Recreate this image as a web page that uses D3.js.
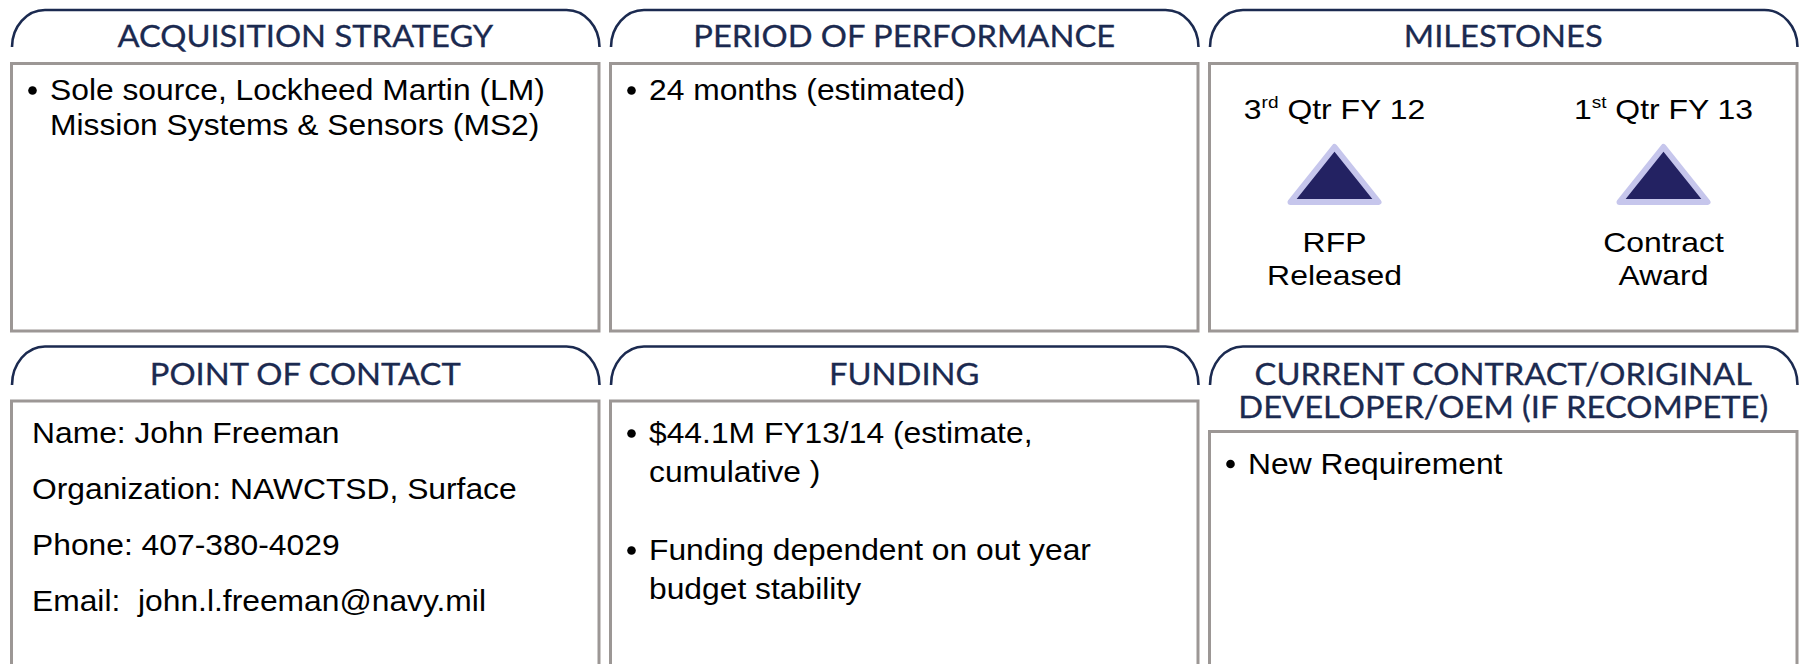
<!DOCTYPE html>
<html>
<head>
<meta charset="utf-8">
<script src="https://cdn.jsdelivr.net/npm/d3@7"></script>
<style>
  body { margin: 0; background: #fff; }
  text { white-space: pre; }
</style>
</head>
<body>
<div id="chart"></div>
<script>
// panel titles, row by row (a title may break over two lines)
var panelTitles = [
  ["ACQUISITION STRATEGY"],
  ["PERIOD OF PERFORMANCE"],
  ["MILESTONES"],
  ["POINT OF CONTACT"],
  ["FUNDING"],
  ["CURRENT CONTRACT/ORIGINAL", "DEVELOPER/OEM (IF RECOMPETE)"]
];

// bullet text, each bullet is a list of lines
var acquisitionBullets = [["Sole source, Lockheed Martin (LM)", "Mission Systems & Sensors (MS2)"]];
var performanceBullets = [["24 months (estimated)"]];
var fundingBullets = [["$44.1M FY13/14 (estimate,", "cumulative )"], ["Funding dependent on out year", "budget stability"]];
var contractBullets = [["New Requirement"]];

// plain lines (no bullets)
var contactLines = ["Name: John Freeman", "Organization: NAWCTSD, Surface", "Phone: 407-380-4029", "Email:  john.l.freeman@navy.mil"];

// milestones
var milestoneQuarter = ["3", "1"];
var milestoneOrdinal = ["rd", "st"];
var milestoneYear = [" Qtr FY 12", " Qtr FY 13"];
var milestoneLabels = [["RFP", "Released"], ["Contract", "Award"]];

var width = 1803, height = 664;
var navy = "#1b2a50", boxGrey = "#9c9795";
var bodyFont = "'Liberation Sans', Arial, sans-serif";
var titleFont = "Lato, 'Noto Sans', sans-serif";

var svg = d3.select("#chart").append("svg")
    .attr("width", width)
    .attr("height", height);

svg.append("rect").attr("width", width).attr("height", height).attr("fill", "#fff");

// columns
var x = d3.scaleBand()
    .domain([0, 1, 2])
    .range([11.5, 1797])
    .paddingInner(0.0192);

// rows: tab top, tab bottom, box top, box bottom, first text baseline
var rows = [
  {tabTop: 10, tabBottom: 47, boxTop: 63.5, boxBottom: 331, textTop: 100},
  {tabTop: 346.5, tabBottom: 385, boxTop: 401, boxBottom: 720, textTop: 443}
];

var titleLineStep = 33;

// text that is a bit wider than the font draws it
function addText(parent, tx, ty, str, size, sx, opts) {
  opts = opts || {};
  var t = parent.append("text")
    .attr("transform", "translate(" + tx + "," + ty + ") scale(" + sx + ",1)")
    .attr("text-anchor", opts.anchor || "start")
    .attr("font-family", opts.font || bodyFont)
    .attr("font-size", size + "px")
    .attr("fill", opts.fill || "#000");
  if (str !== null) t.text(str);
  return t;
}

function tabPath(x0, x1, yt, yb) {
  var rx = 33, ry = yb - yt;
  return "M" + x0 + "," + yb +
    " A" + rx + "," + ry + " 0 0 1 " + (x0 + rx) + "," + yt +
    " L" + (x1 - rx) + "," + yt +
    " A" + rx + "," + ry + " 0 0 1 " + x1 + "," + yb;
}

var panels = panelTitles.map(function(t, i) {
  var r = rows[Math.floor(i / 3)];
  var c = i % 3;
  var extra = (t.length - 1) * 30.5;
  return {
    title: t,
    x0: x(c),
    x1: x(c) + x.bandwidth(),
    row: r,
    boxTop: r.boxTop + extra,
    textTop: r.textTop + extra
  };
});

var panel = svg.selectAll("g.panel")
    .data(panels)
    .enter().append("g")
    .attr("class", "panel");

panel.append("path")
    .attr("d", function(d) { return tabPath(d.x0 + 0.5, d.x1 + 0.5, d.row.tabTop, d.row.tabBottom); })
    .attr("fill", "none")
    .attr("stroke", navy)
    .attr("stroke-width", 2.6);

panel.append("rect")
    .attr("x", function(d) { return d.x0; })
    .attr("y", function(d) { return d.boxTop; })
    .attr("width", function(d) { return d.x1 - d.x0; })
    .attr("height", function(d) { return d.row.boxBottom - d.boxTop; })
    .attr("fill", "#fff")
    .attr("stroke", boxGrey)
    .attr("stroke-width", 3);

panel.each(function(d) {
  var g = d3.select(this);
  d.title.forEach(function(line, k) {
    addText(g, (d.x0 + d.x1) / 2, d.row.tabBottom - 0.5 + k * titleLineStep, line, 30, 1.09,
        {anchor: "middle", font: titleFont, fill: navy})
      .attr("stroke", navy)
      .attr("stroke-width", 0.3);
  });
});

var bodySize = 30, bodyScale = 1.06;

function drawBullets(p, bullets, lineStep, bulletGap) {
  var y = p.textTop;
  bullets.forEach(function(lines) {
    svg.append("circle")
      .attr("cx", p.x0 + 21)
      .attr("cy", y - 9.5)
      .attr("r", 4.3)
      .attr("fill", "#000");
    lines.forEach(function(line) {
      addText(svg, p.x0 + 38.5, y, line, bodySize, bodyScale);
      y += lineStep;
    });
    y += bulletGap;
  });
}

drawBullets(panels[0], acquisitionBullets, 35, 0);
drawBullets(panels[1], performanceBullets, 35, 0);
drawBullets(panels[4], fundingBullets, 39, 39);
drawBullets(panels[5], contractBullets, 38, 0);

// contact lines
contactLines.forEach(function(line, i) {
  addText(svg, panels[3].x0 + 20.5, panels[3].textTop + i * 56, line, bodySize, bodyScale)
    .attr("class", "contact");
});

// milestones
var mp = panels[2];
var mx = d3.scalePoint()
    .domain(d3.range(milestoneQuarter.length))
    .range([mp.x0 + 125, mp.x0 + 454]);

var ms = svg.selectAll("g.milestone")
    .data(d3.range(milestoneQuarter.length))
    .enter().append("g")
    .attr("class", "milestone")
    .attr("transform", function(i) { return "translate(" + mx(i) + ",0)"; });

var msSize = 28.5, msScale = 1.12;

ms.each(function(i) {
  var g = d3.select(this);
  var date = addText(g, 0, 119, null, msSize, msScale, {anchor: "middle"});
  date.append("tspan").text(milestoneQuarter[i]);
  date.append("tspan")
    .attr("font-size", "17px")
    .attr("dy", -11)
    .text(milestoneOrdinal[i]);
  date.append("tspan")
    .attr("dy", 11)
    .text(milestoneYear[i]);

  milestoneLabels[i].forEach(function(line, k) {
    addText(g, 0, 252 + k * 33, line, msSize, msScale, {anchor: "middle"});
  });
});

var triH = 55, triW = 88, triTop = 147;
ms.append("path")
    .attr("d", "M0," + triTop + " L" + (triW / 2) + "," + (triTop + triH) + " L" + (-triW / 2) + "," + (triTop + triH) + "Z")
    .attr("fill", "#232262")
    .attr("stroke", "#c6c6ec")
    .attr("stroke-width", 6)
    .attr("stroke-linejoin", "round");
</script>
</body>
</html>
